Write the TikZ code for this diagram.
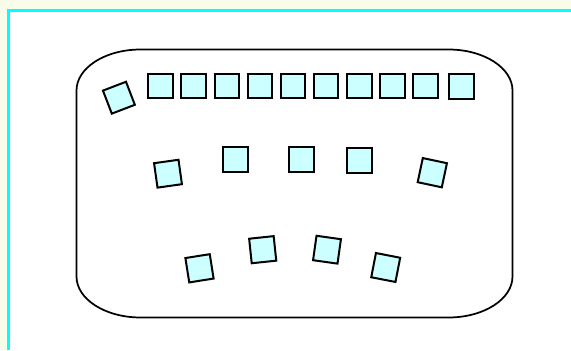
\documentclass[tikz,border=0pt]{standalone}
\definecolor{ivorybg}{RGB}{250,252,234}
\definecolor{framecyan}{RGB}{0,255,255}
\definecolor{boxfill}{RGB}{204,255,255}
\tikzset{
  sq/.style={draw=black, fill=boxfill, line width=1.5pt, shape=rectangle,
    minimum width=18.5pt, minimum height=18.5pt, inner sep=0pt, outer sep=0pt},
  outline/.style={draw=black, line width=1.3pt},
}
\begin{document}
\begin{tikzpicture}[x=0.75pt,y=0.75pt]
\useasboundingbox (0,0) rectangle (571,350);
\fill[ivorybg] (0,0) rectangle (571,350);
\fill[white] (8.5,0) rectangle (571,339.5);
\draw[framecyan, line width=1.9pt] (8.5,0) -- (8.5,339.5) -- (571,339.5);
% rounded container
\draw[outline] (140.5,300.5) -- (448.5,300.5)
  arc[start angle=90,end angle=0,x radius=64,y radius=41]
  -- (512.5,73.5)
  arc[start angle=0,end angle=-90,x radius=64,y radius=41]
  -- (140.5,32.5)
  arc[start angle=270,end angle=180,x radius=64,y radius=41]
  -- (76.5,259.5)
  arc[start angle=180,end angle=90,x radius=64,y radius=41]
  -- cycle;
% top row
\node[sq, rotate=21] (t0) at (118.9,252.3) {};
\foreach \k in {0,...,8} {
  \node[sq] (t\the\numexpr\k+1\relax) at ({160.7+33.08*\k},264) {};
}
\node[sq] (t10) at (461.7,263.3) {};
% middle row
\node[sq, rotate=8] (m1) at (168,176.3) {};
\node[sq] (m2) at (235.8,190.7) {};
\node[sq] (m3) at (301.5,190.5) {};
\node[sq] (m4) at (359.8,189.3) {};
\node[sq, rotate=-12] (m5) at (432.3,177.3) {};
% bottom row
\node[sq, rotate=9] (b1) at (199.5,81.7) {};
\node[sq, rotate=6] (b2) at (262.7,100.3) {};
\node[sq, rotate=-8] (b3) at (327,100.3) {};
\node[sq, rotate=-11] (b4) at (385.7,82.5) {};
\end{tikzpicture}
\end{document}
